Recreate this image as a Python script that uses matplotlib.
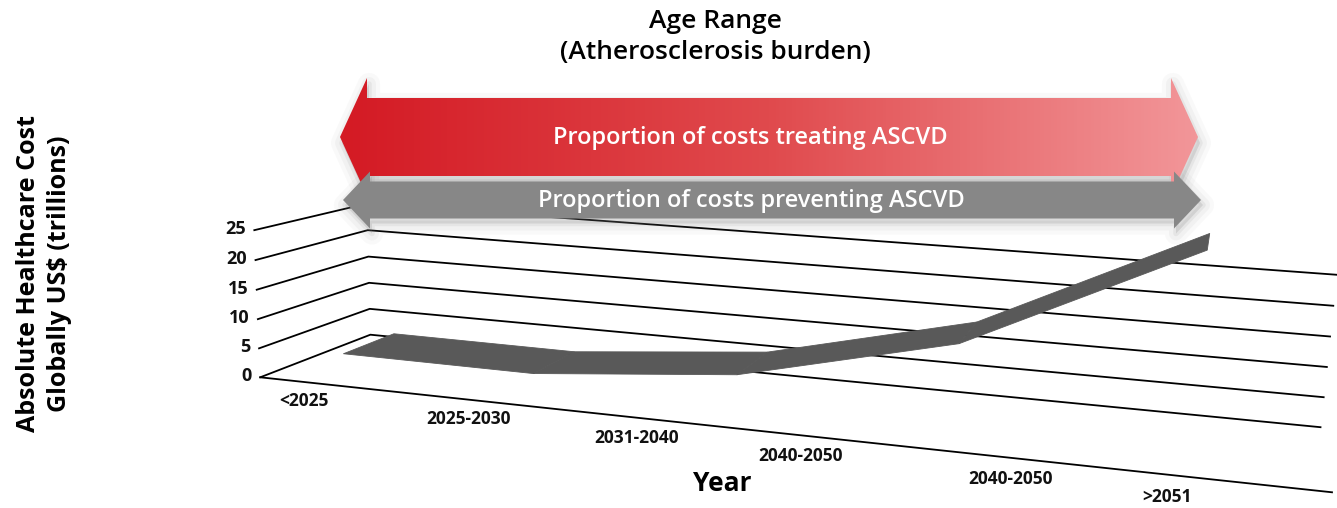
import numpy as np
import matplotlib
matplotlib.use('Agg')
import matplotlib.pyplot as plt
from matplotlib.patches import Polygon
from matplotlib.colors import LinearSegmentedColormap
from mpl_toolkits.mplot3d.art3d import Poly3DCollection

# data
categories = ['<2025', '2025-2030', '2031-2040', '2040-2050', '2040-2050', '>2051']
cost_trillions = [3.0, 2.9, 6.1, 14.4, 31.5]
y_ticks = [0, 5, 10, 15, 20, 25]

# where the category labels sit along the front edge (axis units)
label_x = [0.44, 1.3, 2.12, 2.88, 3.79, 4.43]

FONT = 'Open Sans'
W, H = 1337, 508
fig = plt.figure(figsize=(W / 100, H / 100), dpi=100)
fig.patch.set_facecolor('white')

# 3d axes, camera tuned to the reference perspective
ax = fig.add_axes([0.18020, -0.70933, 0.78757, 2.07280], projection='3d',
                  computed_zorder=False)
x0, x1 = 0.21, 5.06
ax.set_xlim(x0, x1)
ax.set_ylim(0, 1)
ax.set_zlim(0, 25)
ax.view_init(elev=12.1955, azim=-74.5148, roll=-1.7552)
ax.set_proj_type('persp', focal_length=0.28047)
ax.set_box_aspect((6.85785, 1.43649, 1.0))
ax.set_axis_off()

# side wall + back wall gridlines, floor front edge
for v in y_ticks:
    ax.plot([x0, x0, x1], [0, 1, 1], [v, v, v], color='black', lw=1.3, zorder=1, clip_on=False)
ax.plot([x0, x1], [0, 0], [0, 0], color='black', lw=1.3, zorder=1, clip_on=False)

# ribbon (3d line)
y_front, y_back = 0.26, 0.74
xs = np.arange(len(cost_trillions)) + 0.5
quads = []
for i in range(len(xs) - 1):
    quads.append([(xs[i], y_front, cost_trillions[i]), (xs[i + 1], y_front, cost_trillions[i + 1]),
                  (xs[i + 1], y_back, cost_trillions[i + 1]), (xs[i], y_back, cost_trillions[i])])
ribbon = Poly3DCollection(quads, facecolor='#595959', edgecolor='#595959', lw=0.6, zorder=2)
ribbon.set_clip_on(False)
ax.add_collection3d(ribbon)

# text anchored at projected 3d points
fig.canvas.draw()
M = ax.get_proj()


def to_view(x, y, z):
    h = M @ np.array([x, y, z, 1.0])
    return h[0] / h[3], h[1] / h[3]


for v in y_ticks:
    ax.text2D(*to_view(x0 - 0.045, 0, v), str(v), transform=ax.transData, ha='right',
              va='center', fontsize=13, fontweight='bold', family=FONT, color='#111111')

for xl, lab in zip(label_x, categories):
    ax.text2D(*to_view(xl, 0, -3.3), lab, transform=ax.transData, ha='center', va='center',
              fontsize=12.5, fontweight='bold', family=FONT, color='#111111')

# overlay for the arrows
ov = fig.add_axes([0, 0, 1, 1])
ov.set_xlim(0, W)
ov.set_ylim(H, 0)
ov.axis('off')
ov.patch.set_visible(False)


def double_arrow(xa, xb, yc, body_half, head_half, head_len):
    return np.array([[xa, yc], [xa + head_len, yc - head_half], [xa + head_len, yc - body_half],
                     [xb - head_len, yc - body_half], [xb - head_len, yc - head_half], [xb, yc],
                     [xb - head_len, yc + head_half], [xb - head_len, yc + body_half],
                     [xa + head_len, yc + body_half], [xa + head_len, yc + head_half]])


def shadow(pts, dx, dy):
    for lw, a in [(16, 0.04), (10, 0.06), (4, 0.09)]:
        ov.add_patch(Polygon(pts + [dx, dy], closed=True, facecolor='#777777', edgecolor='#777777',
                             lw=lw, alpha=a, joinstyle='round'))


red = double_arrow(340, 1198, 137, 39, 59, 27)
shadow(red, 2, 6)
red_cmap = LinearSegmentedColormap.from_list('red', ['#D41A24', '#E04A4D', '#F29699'])
grad = ov.imshow(np.linspace(0, 1, 256)[None, :], cmap=red_cmap, aspect='auto',
                 extent=[340, 1198, 200, 70], zorder=3)
rp = Polygon(red, closed=True, facecolor='none', edgecolor='none', zorder=3)
ov.add_patch(rp)
grad.set_clip_path(rp)
ov.text(750, 138, 'Proportion of costs treating ASCVD', ha='center', va='center', color='white',
        fontsize=17, fontweight='semibold', family=FONT, zorder=4)

gray = double_arrow(343, 1201, 200, 18.5, 28.5, 27)
shadow(gray, 2, 5)
ov.add_patch(Polygon(gray, closed=True, facecolor='#878787', edgecolor='none', zorder=5))
ov.text(751, 201, 'Proportion of costs preventing ASCVD', ha='center', va='center', color='white',
        fontsize=17, fontweight='semibold', family=FONT, zorder=6)

fig.text(0.535, 0.982, 'Age Range\n(Atherosclerosis burden)', ha='center', va='top',
         fontsize=19, fontweight='semibold', family=FONT, linespacing=1.3)
fig.text(0.540, 0.049, 'Year', ha='center', va='center', fontsize=19,
         fontweight='bold', family=FONT)
fig.text(0.033, 0.461, 'Absolute Healthcare Cost\nGlobally US$ (trillions)', ha='center',
         va='center', rotation=90, fontsize=18, fontweight='bold', family=FONT,
         linespacing=1.3)

fig.savefig('out.png', dpi=100)
